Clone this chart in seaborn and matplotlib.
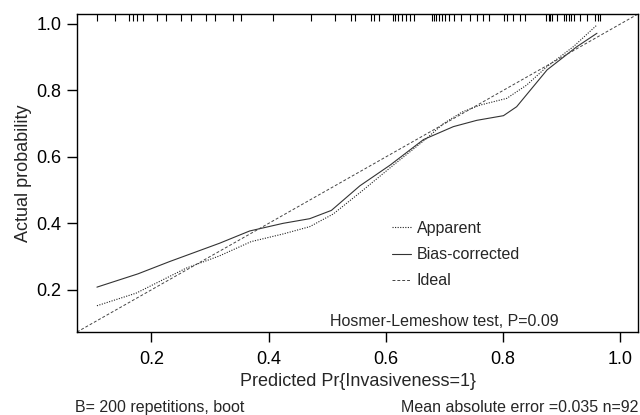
import numpy as np
import pandas as pd
import matplotlib
matplotlib.use("Agg")
import matplotlib.pyplot as plt
import seaborn as sns

# -----------------------------
# DATA
# -----------------------------
APPARENT_X = [0.107, 0.174, 0.259, 0.316, 0.370, 0.4245, 0.470, 0.510, 0.561,
              0.6125, 0.669, 0.698, 0.730, 0.761, 0.806, 0.840, 0.875, 0.920, 0.960]
APPARENT_Y = [0.152, 0.190, 0.265, 0.302, 0.345, 0.368, 0.390, 0.428, 0.500,
              0.575, 0.655, 0.700, 0.735, 0.756, 0.776, 0.816, 0.872, 0.932, 0.997]

BIAS_X = [0.107, 0.177, 0.231, 0.316, 0.3675, 0.4245, 0.470, 0.507, 0.5556,
          0.607, 0.664, 0.715, 0.755, 0.8005, 0.823, 0.875, 0.926, 0.960]
BIAS_Y = [0.208, 0.248, 0.285, 0.340, 0.377, 0.400, 0.414, 0.439, 0.513,
          0.575, 0.652, 0.691, 0.710, 0.724, 0.751, 0.862, 0.932, 0.972]

LIMITS = [0.073, 1.03]

RUG_X = [0.1065, 0.137, 0.161, 0.168, 0.1756, 0.185, 0.209, 0.225, 0.251, 0.268,
         0.2935, 0.309, 0.339, 0.353, 0.407, 0.472, 0.513, 0.540, 0.5475,
         0.574, 0.5795, 0.5886, 0.6115, 0.6154, 0.620, 0.6268, 0.6337, 0.641,
         0.6479, 0.678, 0.682, 0.6855, 0.6906, 0.6957, 0.7014, 0.7082, 0.7168,
         0.7277, 0.7436, 0.755, 0.7663, 0.7766, 0.8017, 0.8063, 0.8176, 0.8279,
         0.8376, 0.8735, 0.8774, 0.8803, 0.8832, 0.8918, 0.903, 0.9065, 0.9116,
         0.9157, 0.9214, 0.9304, 0.943, 0.9573, 0.9612, 0.9646]

TICKS = [0.2, 0.4, 0.6, 0.8, 1.0]
TICK_LABELS = ["0.2", "0.4", "0.6", "0.8", "1.0"]

# -----------------------------
# CONFIG
# -----------------------------
sns.set_style("ticks")
plt.rcParams["font.family"] = ["Liberation Sans", "DejaVu Sans"]
plt.rcParams["axes.linewidth"] = 1.0
plt.rcParams["axes.edgecolor"] = "black"

fig = plt.figure(figsize=(6.4, 4.15), dpi=100)
ax = fig.add_axes([77 / 640, 1 - 332 / 415, (638 - 77) / 640, (332 - 14) / 415])

apparent = pd.DataFrame({"x": APPARENT_X, "y": APPARENT_Y})
bias = pd.DataFrame({"x": BIAS_X, "y": BIAS_Y})
ideal = pd.DataFrame({"x": LIMITS, "y": LIMITS})

sns.lineplot(data=apparent, x="x", y="y", ax=ax, sort=False, color="#222222",
             lw=0.8, linestyle=(0, (1, 1.3)), label="Apparent")
sns.lineplot(data=bias, x="x", y="y", ax=ax, sort=False, color="#333333",
             lw=0.8, label="Bias-corrected")
sns.lineplot(data=ideal, x="x", y="y", ax=ax, sort=False, color="#444444",
             lw=0.7, linestyle=(0, (3, 2)), label="Ideal")

# rug of predicted values along the top
ax.vlines(RUG_X, 1 - 7 / 318, 1, transform=ax.get_xaxis_transform(),
          color="black", lw=0.8)

ax.set_xlim(LIMITS)
ax.set_ylim(LIMITS)
ax.set_xticks(TICKS)
ax.set_xticklabels(TICK_LABELS)
ax.set_yticks(TICKS)
ax.set_yticklabels(TICK_LABELS)
ax.tick_params(axis="both", direction="out", length=7, width=1.0,
               labelsize=13, colors="black")
ax.tick_params(axis="x", pad=7)
ax.tick_params(axis="y", pad=4)
for sp in ax.spines.values():
    sp.set_visible(True)
    sp.set_color("black")

ax.set_xlabel("Predicted Pr{Invasiveness=1}", fontsize=13, labelpad=3)
ax.set_ylabel("Actual probability", fontsize=13, labelpad=3)

leg = ax.legend(loc="upper left", bbox_to_anchor=(392 / 640, 1 - 221 / 415),
                bbox_transform=fig.transFigure, frameon=False, fontsize=11.5,
                handlelength=1.2, handletextpad=0.35, labelspacing=0.7,
                borderpad=0, borderaxespad=0)

fig.text(330 / 640, 1 - 322 / 415, "Hosmer-Lemeshow test, P=0.09",
         fontsize=11.5, va="center", ha="left")

fig.text(75 / 640, 1 - 407 / 415, "B= 200 repetitions, boot", fontsize=11.5,
         va="center", ha="left")
fig.text(638 / 640, 1 - 407 / 415, "Mean absolute error =0.035 n=92",
         fontsize=11.5, va="center", ha="right")

fig.savefig("out.png", dpi=100)
plt.close(fig)
